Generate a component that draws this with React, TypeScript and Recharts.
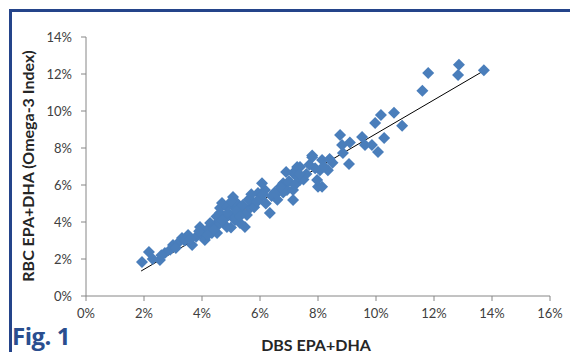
import React from 'react';
import { ReferenceLine, Scatter, ScatterChart, XAxis, YAxis } from 'recharts';

// DBS EPA+DHA (%) vs RBC EPA+DHA (%)
const dbs = [
  1.93, 2.17, 2.55, 2.72, 3.0, 3.31, 3.52, 3.66, 3.93, 4.1, 4.34, 4.55, 4.62, 5.03, 5.31, 5.14, 5.55, 5.48,
  4.03, 4.17, 4.28, 4.52, 4.86, 5.31, 5.07, 4.62, 4.69, 4.86, 5.2, 5.07, 5.38, 6.34, 5.66, 5.76, 5.93, 6.17,
  6.07, 6.59, 7.14, 6.93, 6.8, 8.0, 7.38, 7.14, 7.28, 7.8,
  7.14, 7.28, 7.38, 7.97, 8.14, 8.07, 8.34, 8.14, 7.8, 9.07, 8.86, 8.83, 8.76, 9.1, 9.62, 9.52, 9.86, 10.07,
  10.28, 9.97, 10.17, 10.62, 10.9,
  11.6, 11.8, 12.83, 12.86, 13.72,
  3.2, 3.4, 3.8, 3.9, 4.2, 4.4, 4.6, 4.8, 4.9, 5.0, 5.2, 5.4, 5.6, 5.8, 6.0, 6.2, 6.4, 6.6, 6.8, 7.0, 7.2,
  7.5, 7.6, 7.9, 8.2, 8.5, 7.7, 6.9, 5.7, 5.0, 4.5, 2.9, 3.1, 2.3, 2.6,
  6.5, 6.1, 5.3, 4.4, 3.6, 7.35, 8.4, 6.7, 5.9, 4.7,
];
const rbc = [
  1.84, 2.38, 1.95, 2.32, 2.76, 3.14, 3.3, 2.76, 3.73, 3.03, 3.41, 4.0, 4.76, 4.92, 4.76, 4.11, 4.38, 3.73,
  3.19, 3.57, 3.95, 3.41, 3.73, 3.95, 4.27, 4.49, 5.03, 4.81, 5.03, 5.35, 4.54, 4.49, 4.76, 5.08, 5.57, 5.73,
  6.1, 5.57, 5.19, 5.73, 6.1, 5.9, 6.27, 6.65, 6.97, 7.5,
  5.73, 6.43, 6.97, 6.27, 5.9, 6.8, 6.8, 7.35, 7.6, 7.14, 7.73, 8.16, 8.7, 8.3, 8.16, 8.6, 8.16, 7.78,
  8.54, 9.35, 9.78, 9.9, 9.2,
  11.1, 12.05, 11.95, 12.5, 12.2,
  2.9, 3.0, 3.2, 3.5, 3.3, 3.7, 3.9, 4.2, 4.5, 3.7, 4.6, 4.9, 5.2, 4.8, 5.3, 5.0, 5.4, 5.2, 5.6, 6.2, 6.0,
  6.3, 6.6, 6.9, 7.0, 7.2, 7.1, 6.7, 5.5, 5.1, 4.3, 2.5, 2.6, 2.0, 2.2,
  5.6, 5.5, 4.3, 3.6, 3.1, 6.6, 7.4, 5.9, 5.1, 4.1,
];

// linear trend line
const trendSlope = 0.916;
const trendIntercept = -0.39;
const trendRange = [1.9, 13.7];

const xTicks = [0, 2, 4, 6, 8, 10, 12, 14, 16];
const yTicks = [0, 2, 4, 6, 8, 10, 12, 14];

const points = dbs.map((x, i) => ({ x, y: rbc[i] }));
const trend = trendRange.map((x) => ({ x, y: trendSlope * x + trendIntercept }));

const blue = '#4a7ebb';
const axisColor = '#868686';
const tickStyle = { fontSize: 13, fill: '#404040', fontFamily: 'Lato' };

const Diamond = (props: any) => {
  const { cx, cy } = props;
  const r = 6;
  return (
    <polygon
      points={`${cx},${cy - r} ${cx + r},${cy} ${cx},${cy + r} ${cx - r},${cy}`}
      fill={blue}
    />
  );
};

export default function App() {
  return (
    <div style={{ position: 'relative', width: 578, height: 360, margin: -8, background: '#fff', overflow: 'hidden' }}>
      <div style={{ position: 'absolute', left: 9, top: 9, right: 0, height: 3, background: '#24448a' }} />
      <div style={{ position: 'absolute', left: 9, top: 9, bottom: 0, width: 3, background: '#24448a' }} />
      <ScatterChart width={578} height={360} margin={{ top: 37, right: 28, bottom: 0, left: 40 }}>
        <XAxis
          type="number"
          dataKey="x"
          domain={[0, 16]}
          ticks={xTicks}
          tickFormatter={(v) => `${v}%`}
          stroke={axisColor}
          tick={tickStyle}
          tickSize={5}
          tickMargin={8}
          height={64}
        />
        <YAxis
          type="number"
          dataKey="y"
          domain={[0, 14]}
          ticks={yTicks}
          tickFormatter={(v) => `${v}%`}
          stroke={axisColor}
          tick={tickStyle}
          tickSize={5}
          tickMargin={9}
          width={46}
        />
        <Scatter data={points} fill={blue} shape={Diamond} isAnimationActive={false} />
        <ReferenceLine
          segment={[trend[0], trend[1]]}
          stroke="#000"
          strokeWidth={1}
          ifOverflow="visible"
        />
      </ScatterChart>
      <div
        style={{
          position: 'absolute',
          left: 27,
          top: 166,
          transform: 'translate(-50%, -50%) rotate(-90deg)',
          whiteSpace: 'nowrap',
          fontFamily: 'Lato',
          fontWeight: 700,
          fontSize: 16,
          color: '#262626',
        }}
      >
        RBC EPA+DHA (Omega-3 Index)
      </div>
      <div
        style={{
          position: 'absolute',
          left: 316,
          top: 344,
          transform: 'translate(-50%, -50%)',
          whiteSpace: 'nowrap',
          fontFamily: 'Lato',
          fontWeight: 700,
          fontSize: 16,
          color: '#262626',
        }}
      >
        DBS EPA+DHA
      </div>
      <div
        style={{
          position: 'absolute',
          left: 12,
          top: 321,
          fontFamily: 'Open Sans',
          fontWeight: 700,
          fontSize: 24,
          lineHeight: '30px',
          color: '#2a4e8f',
          letterSpacing: -0.5,
        }}
      >
        Fig. 1
      </div>
    </div>
  );
}
